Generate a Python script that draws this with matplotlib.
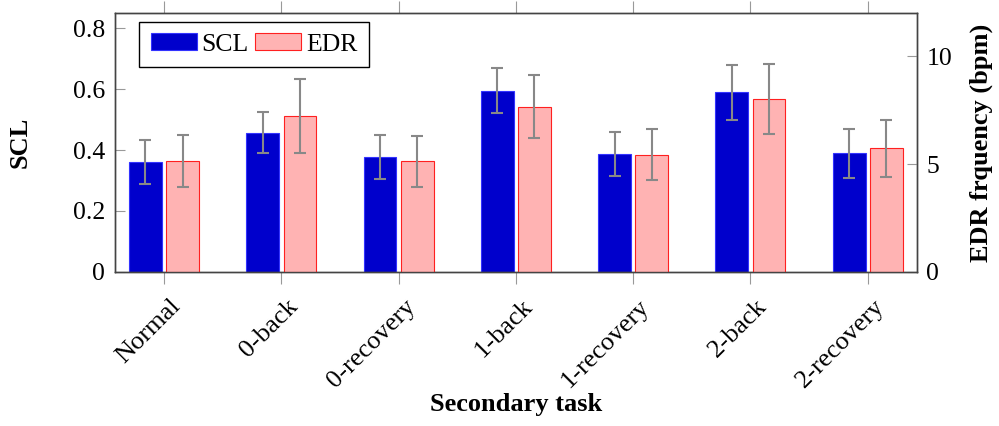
import matplotlib
matplotlib.use("Agg")
import matplotlib.pyplot as plt
import matplotlib.transforms as mtransforms
import numpy as np

plt.rcParams["font.family"] = ["Liberation Serif", "DejaVu Serif"]

# data
tasks = ["Normal", "0-back", "0-recovery", "1-back", "1-recovery", "2-back", "2-recovery"]
scl = [0.360, 0.457, 0.377, 0.596, 0.386, 0.590, 0.389]
scl_err = [0.072, 0.067, 0.072, 0.074, 0.072, 0.090, 0.082]
edr = [5.15, 7.23, 5.12, 7.67, 5.44, 8.02, 5.73]
edr_err = [1.22, 1.70, 1.19, 1.47, 1.19, 1.64, 1.32]

SCL_FILL, SCL_EDGE = "#0000CC", "#3333FF"
EDR_FILL, EDR_EDGE = "#FFB3B3", "#FF2020"
ERR = "#888888"
TICK = "#999999"
SPINE = "#444444"

fig = plt.figure(figsize=(9.99, 4.26), dpi=100)
ax = fig.add_axes([0.1151, 0.3622, 0.8025, 0.6066])
ax2 = ax.twinx()

x = np.arange(len(tasks))
w = 0.28
err_kw = dict(ecolor=ERR, elinewidth=1.5, capsize=4, capthick=1.5)

b1 = ax.bar(x - 0.158, scl, w, yerr=scl_err, color=SCL_FILL, edgecolor=SCL_EDGE,
            linewidth=0.8, error_kw=err_kw, label="SCL", zorder=2)
b2 = ax2.bar(x + 0.159, edr, w, yerr=edr_err, color=EDR_FILL, edgecolor=EDR_EDGE,
             linewidth=0.8, error_kw=err_kw, label="EDR", zorder=2)

ax.set_xlim(-0.418, len(tasks) - 1 + 0.418)
ax.set_ylim(0, 0.85)
ax2.set_ylim(0, 12)

ax.set_yticks([0, 0.2, 0.4, 0.6, 0.8])
ax.set_yticklabels(["0", "0.2", "0.4", "0.6", "0.8"])
ax2.set_yticks([0, 5, 10])
ax2.set_yticklabels(["0", "5", "10"])

ax.tick_params(axis="x", direction="out", top=True, labeltop=False,
               length=8.6, width=0.8, color=TICK, pad=14)
ax.tick_params(axis="y", direction="in", right=False, length=7.5, width=0.8,
               color=TICK, labelsize=18.5, pad=7)
ax2.tick_params(axis="y", direction="in", length=7.5, width=0.8,
                color=TICK, labelsize=18.5, pad=7)

ax.set_xticks(x)
ax.set_xticklabels(tasks, rotation=45, ha="right", va="center",
                   rotation_mode="anchor", fontsize=19)
# nudge the rotated labels to the right, as in the original
shift = mtransforms.ScaledTranslation(9.5 / 72, 0, fig.dpi_scale_trans)
for lbl in ax.get_xticklabels():
    lbl.set_transform(lbl.get_transform() + shift)

for a in (ax, ax2):
    for s in a.spines.values():
        s.set_color(SPINE)
        s.set_linewidth(1.0)

ax.set_ylabel("SCL", fontsize=19, fontweight="bold")
ax.yaxis.set_label_coords(-0.104, 0.5)
ax2.set_ylabel("EDR frquency (bpm)", fontsize=19, fontweight="bold")
ax2.yaxis.set_label_coords(1.0665, 0.5)
ax.set_xlabel("Secondary task", fontsize=19, fontweight="bold")
ax.xaxis.set_label_coords(0.5, -0.469)

leg = ax.legend([b1, b2], ["SCL", "EDR"], ncol=2, loc="upper left",
                bbox_to_anchor=(0.030, 0.9675), borderaxespad=0,
                fontsize=18.5, handlelength=1.79, handleheight=0.62,
                handletextpad=0.2, columnspacing=0.23, borderpad=0.45,
                fancybox=False, framealpha=1, edgecolor="black")
leg.get_frame().set_linewidth(1.0)

fig.savefig("out.png", dpi=100)
